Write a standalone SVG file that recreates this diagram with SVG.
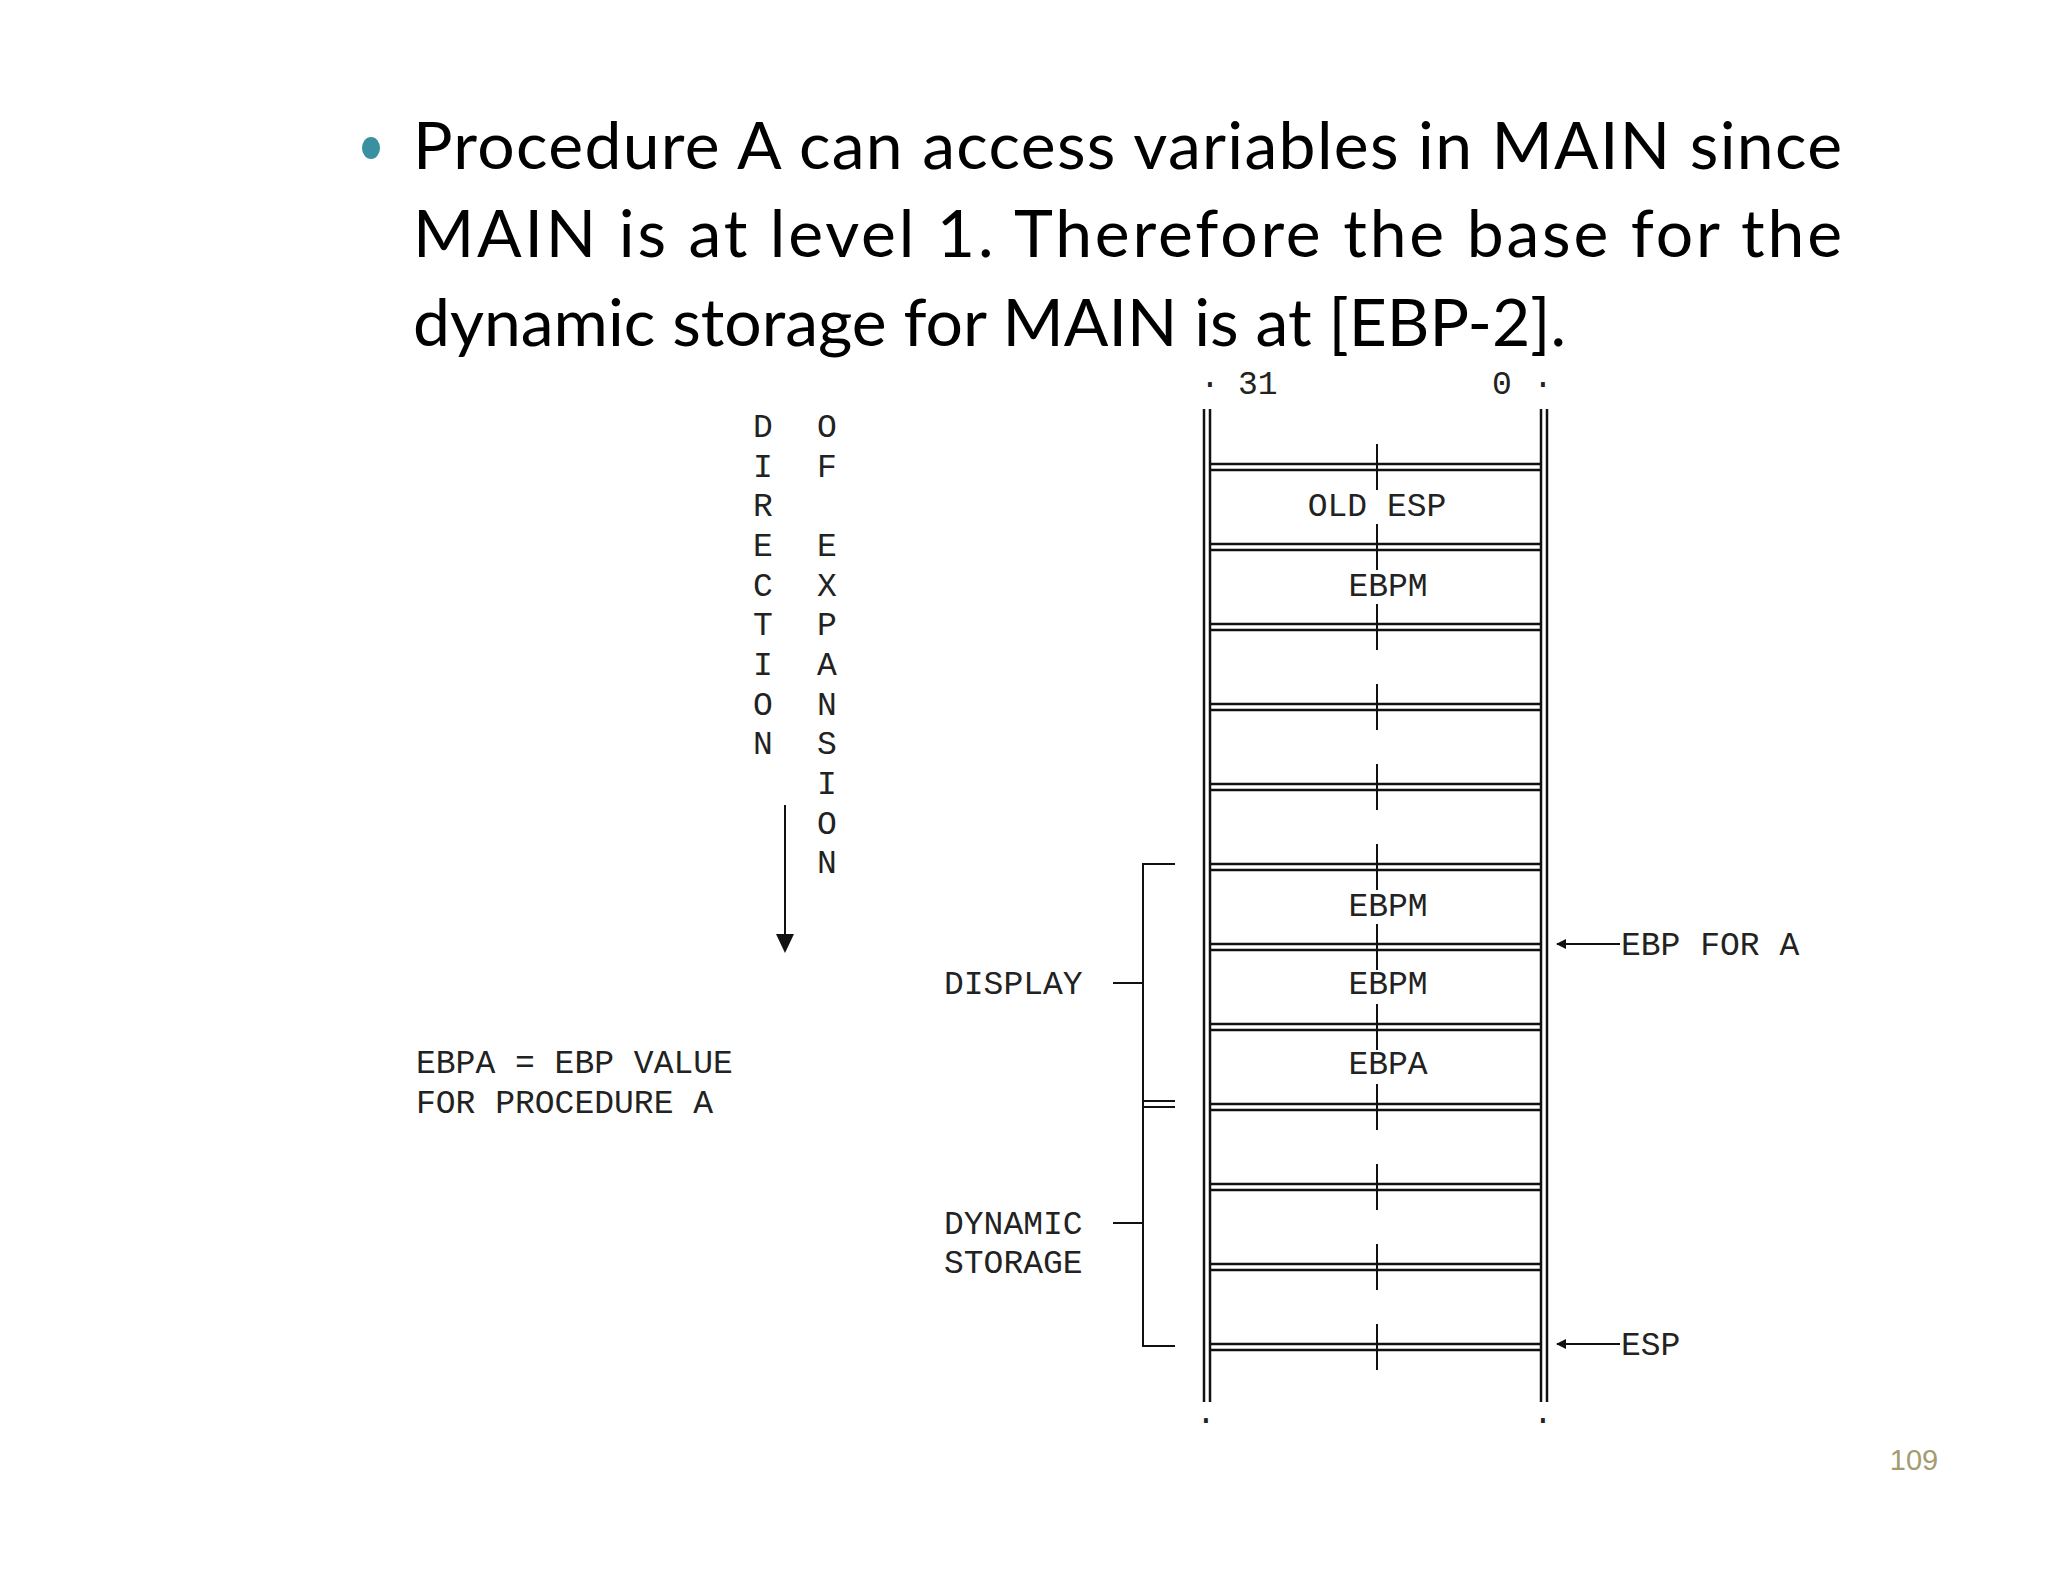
<svg xmlns="http://www.w3.org/2000/svg" width="2048" height="1582" viewBox="0 0 2048 1582">
<defs>
<style>
.m{font-family:"Liberation Mono","DejaVu Sans Mono",monospace;font-size:33px;fill:#222}
.mc{font-family:"Liberation Mono","DejaVu Sans Mono",monospace;font-size:33px;fill:#222;text-anchor:middle}
.t{font-family:Lato,"Open Sans",sans-serif;font-size:66px;fill:#000}
.ln{stroke:#111;stroke-width:2.5;fill:none}
.th{stroke:#111;stroke-width:2;fill:none}
</style>
<marker id="ah" markerWidth="10" markerHeight="10" refX="9" refY="5" orient="auto" markerUnits="userSpaceOnUse"><path d="M0,0 L10,5 L0,10 Z" fill="#111"/></marker>
</defs>
<rect width="2048" height="1582" fill="#fff"/>
<g id="title">
<ellipse cx="371" cy="148" rx="9" ry="11" fill="#3a8fa0"/>
<text class="t" x="413" y="169" textLength="1429" lengthAdjust="spacing">Procedure A can access variables in MAIN since</text>
<text class="t" x="413" y="257" textLength="1429" lengthAdjust="spacing">MAIN is at level 1. Therefore the base for the</text>
<text class="t" x="413" y="346">dynamic storage for MAIN is at [EBP-2].</text>
</g>
<g id="stack">
<text class="m" x="1200" y="394">·</text><text class="m" x="1238" y="394">31</text>
<text class="m" x="1492" y="394">0</text><text class="m" x="1533" y="394">·</text>
<text class="m" x="1196" y="1430">·</text><text class="m" x="1533" y="1430">·</text>
<path class="ln" d="M1204,409V1402M1210,409V1402M1541,409V1402M1547,409V1402"/>
<path class="ln" d="M1210,464H1541M1210,470H1541M1210,544H1541M1210,550H1541M1210,624H1541M1210,630H1541M1210,704H1541M1210,710H1541M1210,784H1541M1210,790H1541M1210,864H1541M1210,870H1541M1210,944H1541M1210,950H1541M1210,1024H1541M1210,1030H1541M1210,1104H1541M1210,1110H1541M1210,1184H1541M1210,1190H1541M1210,1264H1541M1210,1270H1541M1210,1344H1541M1210,1350H1541"/>
<path class="th" d="M1377,444V490M1377,524V570M1377,604V650M1377,684V730M1377,764V810M1377,844V890M1377,924V970M1377,1004V1050M1377,1084V1130M1377,1164V1210M1377,1244V1290M1377,1324V1370"/>
</g>
<g id="cells">
<text class="mc" x="1377" y="516">OLD ESP</text>
<text class="mc" x="1388" y="596">EBPM</text>
<text class="mc" x="1388" y="916">EBPM</text>
<text class="mc" x="1388" y="994">EBPM</text>
<text class="mc" x="1388" y="1074">EBPA</text>
</g>
<g id="brackets">
<path class="th" d="M1175,864H1143V1346H1175M1143,1101H1175M1143,1107H1175M1113,983H1143M1113,1223H1143"/>
<text class="m" x="944" y="994">DISPLAY</text>
<text class="m" x="944" y="1234">DYNAMIC</text>
<text class="m" x="944" y="1273">STORAGE</text>
</g>
<g id="connectors">
<line class="th" x1="1620" y1="944" x2="1557" y2="944" marker-end="url(#ah)"/>
<line class="th" x1="1620" y1="1344" x2="1557" y2="1344" marker-end="url(#ah)"/>
<line class="th" x1="785" y1="805" x2="785" y2="934"/>
<path d="M776,934H794L785,953Z" fill="#111"/>
</g>
<g id="pointers">
<text class="m" x="1621" y="955">EBP FOR A</text>
<text class="m" x="1621" y="1355">ESP</text>
</g>
<g id="direction">
<text class="mc" x="763" y="437">D</text><text class="mc" x="763" y="477">I</text><text class="mc" x="763" y="516">R</text><text class="mc" x="763" y="556">E</text><text class="mc" x="763" y="596">C</text><text class="mc" x="763" y="635">T</text><text class="mc" x="763" y="675">I</text><text class="mc" x="763" y="715">O</text><text class="mc" x="763" y="754">N</text>
<text class="mc" x="827" y="437">O</text><text class="mc" x="827" y="477">F</text><text class="mc" x="827" y="556">E</text><text class="mc" x="827" y="596">X</text><text class="mc" x="827" y="635">P</text><text class="mc" x="827" y="675">A</text><text class="mc" x="827" y="715">N</text><text class="mc" x="827" y="754">S</text><text class="mc" x="827" y="794">I</text><text class="mc" x="827" y="834">O</text><text class="mc" x="827" y="873">N</text>
</g>
<g id="legend">
<text class="m" x="416" y="1073" xml:space="preserve">EBPA = EBP VALUE</text>
<text class="m" x="416" y="1113">FOR PROCEDURE A</text>
</g>
<text x="1914" y="1470" text-anchor="middle" font-family="Liberation Sans, sans-serif" font-size="29" fill="#a39c72">109</text>
</svg>
